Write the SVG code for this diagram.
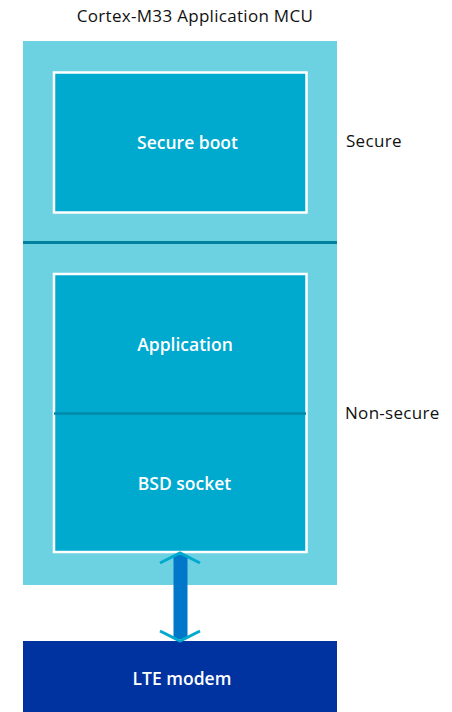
<svg xmlns="http://www.w3.org/2000/svg" width="452" height="712" viewBox="0 0 452 712">
<style>
text{font-family:"Open Sans","Noto Sans","Liberation Sans",sans-serif;}
.lbl{font-size:17px;fill:#111;letter-spacing:0.3px;}
.in{font-size:17.5px;font-weight:600;fill:#fff;text-anchor:middle;}
.box{fill:#00a9ce;stroke:#fff;stroke-width:2.5;}
</style>
<rect width="452" height="712" fill="#fff"/>
<text class="lbl" x="195" y="22" text-anchor="middle">Cortex-M33 Application MCU</text>
<g id="mcu">
<rect x="23" y="41" width="314" height="544" fill="#6cd2e2"/>
<line x1="23" y1="242.5" x2="337" y2="242.5" stroke="#00819f" stroke-width="3"/>
</g>
<g id="secure-boot">
<rect class="box" x="54" y="72.5" width="252.5" height="140"/>
<text class="in" x="187.5" y="149">Secure boot</text>
</g>
<g id="app-stack">
<rect class="box" x="54" y="274" width="252.5" height="278"/>
<line x1="54" y1="413.5" x2="306" y2="413.5" stroke="#0088a8" stroke-width="2.5"/>
<text class="in" x="185" y="351">Application</text>
<text class="in" x="184.5" y="490">BSD socket</text>
</g>
<g id="lte-modem">
<rect x="23" y="641" width="314" height="71" fill="#0033a0"/>
<text class="in" x="182" y="685">LTE modem</text>
</g>
<text class="lbl" x="346" y="147">Secure</text>
<text class="lbl" x="345" y="419">Non-secure</text>
<g id="connectors">
<rect x="173.5" y="555" width="14" height="84" fill="#0077c8"/>
<polyline points="160,563 180,553 200,563" fill="none" stroke="#00a9ce" stroke-width="3"/>
<polyline points="160,631 180,641 200,631" fill="none" stroke="#00a9ce" stroke-width="3"/>
</g>
</svg>
